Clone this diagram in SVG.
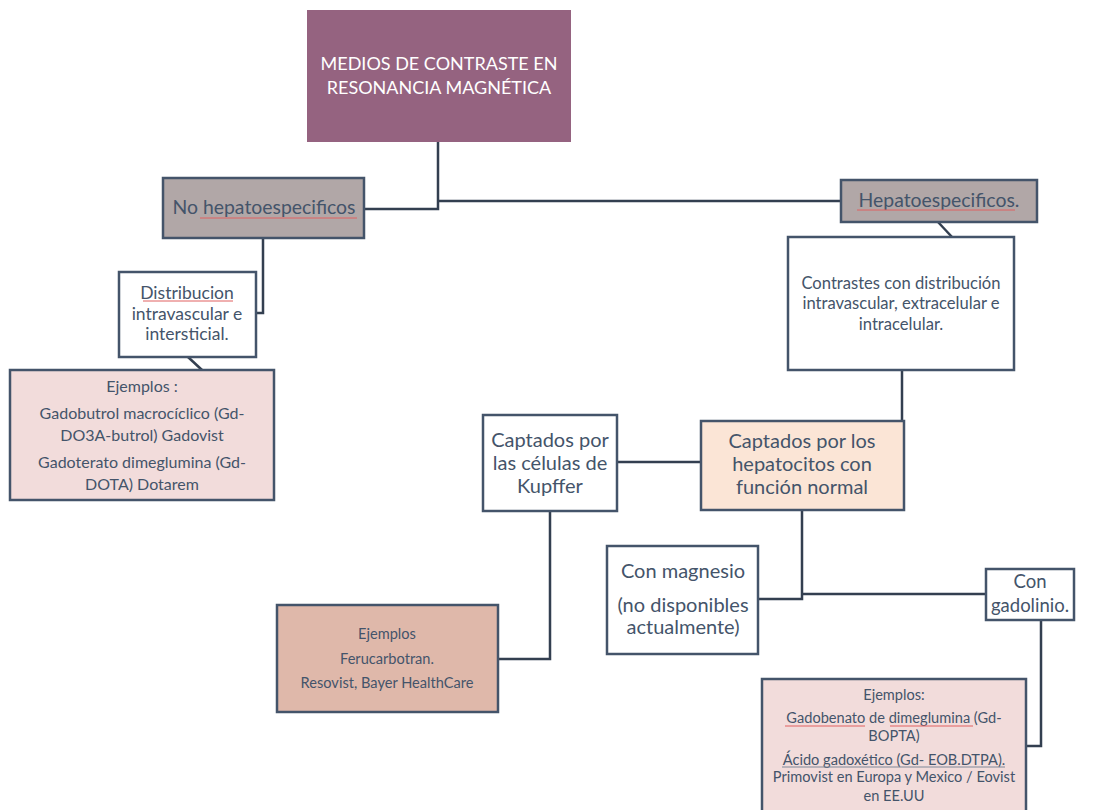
<svg xmlns="http://www.w3.org/2000/svg" width="1098" height="810" viewBox="0 0 1098 810">
<style>
text{font-family:Lato,"Open Sans","Liberation Sans",sans-serif;fill:#44546a;text-anchor:middle}
.box{stroke:#44546a;stroke-width:2.5}
.w{fill:#ffffff}
.c{fill:none;stroke:#333f50;stroke-width:2.5}
.t20{font-size:20px}
.tg{font-size:18.5px}
.t19{font-size:19.4px}
.t17{font-size:17.5px}
.t16{font-size:16.6px}
.t13{font-size:16px}
.t12{font-size:14.6px}
.sp{stroke:#e06060;stroke-width:1}
</style>
<rect width="1098" height="810" fill="#ffffff"/>
<g id="connectors">
<polyline class="c" points="438,142 438,209 364,209"/>
<polyline class="c" points="438,201 841,201"/>
<polyline class="c" points="263,238 263,313 256,313"/>
<line class="c" x1="188" y1="357" x2="202" y2="370"/>
<line class="c" x1="938" y1="222" x2="952" y2="237"/>
<line class="c" x1="902" y1="370" x2="902" y2="421"/>
<line class="c" x1="617" y1="462" x2="701" y2="462"/>
<polyline class="c" points="550,511 550,659 498,659"/>
<polyline class="c" points="802,510 802,599 758,599"/>
<polyline class="c" points="802,594 986,594"/>
<polyline class="c" points="1041,620 1041,746 1026,746"/>
</g>
<g id="main">
<rect x="307" y="10" width="264" height="132" fill="#956380"/>
<text x="439" y="70" style="fill:#ffffff;font-size:18px">MEDIOS DE CONTRASTE EN</text>
<text x="439" y="94" style="fill:#ffffff;font-size:18px">RESONANCIA MAGNÉTICA</text>
</g>
<g id="no-hepato">
<rect class="box" x="163" y="178" width="201" height="60" fill="#b1a7a7"/>
<text class="t19" x="264" y="214">No hepatoespecificos</text>
<line class="sp" x1="200" y1="218" x2="357" y2="218"/>
</g>
<g id="hepato">
<rect class="box" x="841" y="180" width="196" height="42" fill="#b1a7a7"/>
<text class="t19" x="939" y="207">Hepatoespecificos.</text>
<line class="sp" x1="857" y1="210" x2="1015" y2="210"/>
</g>
<g id="distribucion">
<rect class="box w" x="119" y="272" width="137" height="85"/>
<text class="t17" x="187" y="299">Distribucion</text>
<line class="sp" x1="143" y1="301" x2="233" y2="301"/>
<text class="t17" x="187" y="320">intravascular e</text>
<text class="t17" x="187" y="340">intersticial.</text>
</g>
<g id="ejemplos1">
<rect class="box" x="10" y="370" width="264" height="130" fill="#f2dcdb"/>
<text class="t13" x="142" y="392">Ejemplos :</text>
<text class="t13" x="142" y="419">Gadobutrol macrocíclico (Gd-</text>
<text class="t13" x="142" y="441">DO3A-butrol) Gadovist</text>
<text class="t13" x="142" y="468">Gadoterato dimeglumina (Gd-</text>
<text class="t13" x="142" y="490">DOTA) Dotarem</text>
</g>
<g id="contrastes">
<rect class="box w" x="788" y="237" width="226" height="133"/>
<text class="t16" x="901" y="289">Contrastes con distribución</text>
<text class="t16" x="901" y="309">intravascular, extracelular e</text>
<text class="t16" x="901" y="330">intracelular.</text>
</g>
<g id="kupffer">
<rect class="box w" x="483" y="415" width="134" height="96"/>
<text class="t20" x="550" y="447">Captados por</text>
<text class="t20" x="550" y="470">las células de</text>
<text class="t20" x="550" y="493">Kupffer</text>
</g>
<g id="hepatocitos">
<rect class="box" x="701" y="421" width="203" height="89" fill="#fbe5d6"/>
<text class="t20" x="802" y="448">Captados por los</text>
<text class="t20" x="802" y="471">hepatocitos con</text>
<text class="t20" x="802" y="494">función normal</text>
</g>
<g id="ferucarbotran">
<rect class="box" x="277" y="605" width="221" height="107" fill="#dfb8aa"/>
<text class="t12" x="387" y="639">Ejemplos</text>
<text class="t12" x="387" y="664">Ferucarbotran.</text>
<text class="t12" x="387" y="688">Resovist, Bayer HealthCare</text>
</g>
<g id="magnesio">
<rect class="box w" x="607" y="546" width="151" height="108"/>
<text class="t20" x="683" y="578">Con magnesio</text>
<text class="t20" x="683" y="612">(no disponibles</text>
<text class="t20" x="683" y="634">actualmente)</text>
</g>
<g id="gadolinio">
<rect class="box w" x="986" y="569" width="88" height="51"/>
<text class="tg" x="1030" y="588">Con</text>
<text class="tg" x="1030" y="612">gadolinio.</text>
</g>
<g id="ejemplos3">
<rect class="box" x="762" y="679" width="264" height="140" fill="#f2dcdb"/>
<text class="t12" x="894" y="700">Ejemplos:</text>
<text class="t12" x="894" y="723">Gadobenato de dimeglumina (Gd-</text>
<line class="sp" x1="785" y1="726" x2="865" y2="726"/>
<line class="sp" x1="890" y1="726" x2="973" y2="726"/>
<text class="t12" x="894" y="741">BOPTA)</text>
<text class="t12" x="894" y="765">Ácido gadoxético (Gd- EOB.DTPA).</text>
<line x1="782" y1="767" x2="1005" y2="767" stroke="#7f8898" stroke-width="1"/>
<text class="t12" x="894" y="782">Primovist en Europa y Mexico / Eovist</text>
<text class="t12" x="894" y="801">en EE.UU</text>
</g>
</svg>
